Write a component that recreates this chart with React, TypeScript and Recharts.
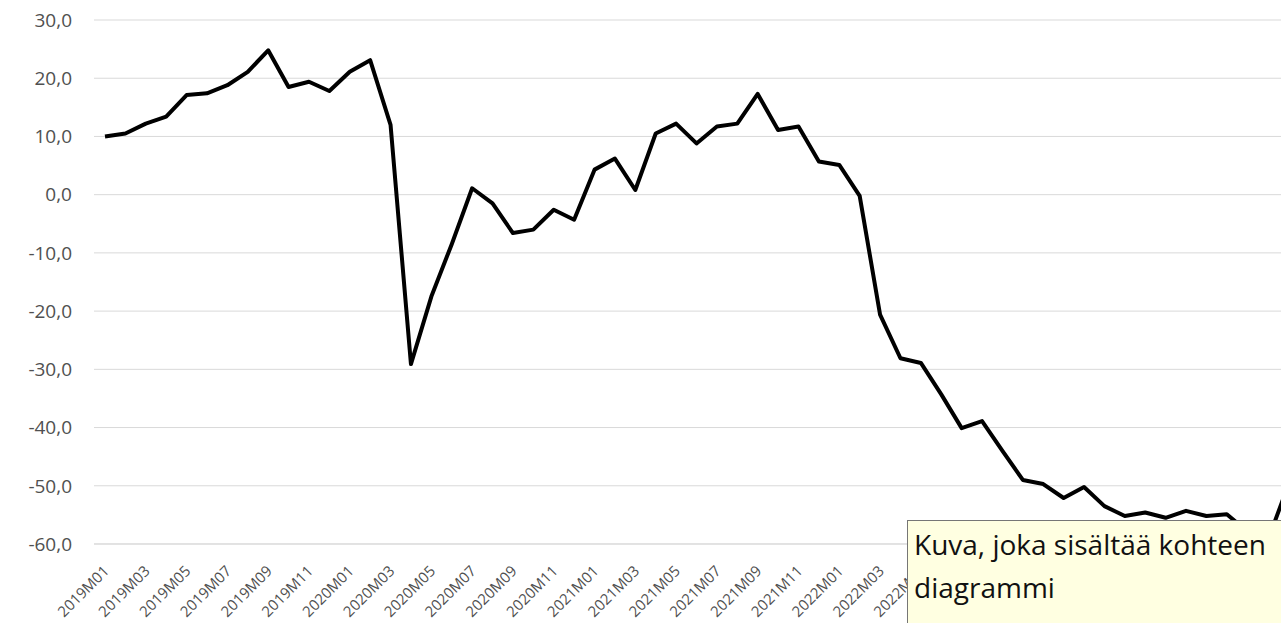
import { LineChart, Line, XAxis, YAxis, CartesianGrid } from 'recharts'

// monthly series 2019M01 .. 2023M11
const months = [
  '2019M01', '2019M02', '2019M03', '2019M04', '2019M05', '2019M06', '2019M07', '2019M08', '2019M09', '2019M10', '2019M11', '2019M12',
  '2020M01', '2020M02', '2020M03', '2020M04', '2020M05', '2020M06', '2020M07', '2020M08', '2020M09', '2020M10', '2020M11', '2020M12',
  '2021M01', '2021M02', '2021M03', '2021M04', '2021M05', '2021M06', '2021M07', '2021M08', '2021M09', '2021M10', '2021M11', '2021M12',
  '2022M01', '2022M02', '2022M03', '2022M04', '2022M05', '2022M06', '2022M07', '2022M08', '2022M09', '2022M10', '2022M11', '2022M12',
  '2023M01', '2023M02', '2023M03', '2023M04', '2023M05', '2023M06', '2023M07', '2023M08', '2023M09', '2023M10', '2023M11',
]

const values = [
  10.0, 10.5, 12.2, 13.4, 17.1, 17.4, 18.8, 21.1, 24.8, 18.5, 19.4, 17.8,
  21.1, 23.1, 12.0, -29.1, -17.5, -8.5, 1.1, -1.5, -6.6, -6.0, -2.6, -4.3,
  4.3, 6.2, 0.8, 10.5, 12.2, 8.8, 11.7, 12.2, 17.3, 11.1, 11.7, 5.7,
  5.1, -0.2, -20.6, -28.1, -28.9, -34.3, -40.1, -38.9, -44.0, -49.0, -49.7, -52.1,
  -50.2, -53.5, -55.2, -54.6, -55.5, -54.3, -55.2, -54.9, -57.8, -59.5, -50.0,
]

const yTicks = [-60, -50, -40, -30, -20, -10, 0, 10, 20, 30]

const tooltipLines = ['Kuva, joka sisältää kohteen', 'diagrammi']

const data = months.map((m, i) => ({ month: m, value: values[i] }))

const fmt = (v: number) => v.toFixed(1).replace('.', ',')

const MonthTick = (props: any) => {
  const { x, y, payload } = props
  const ax = x + 5
  const ay = y + 20
  return (
    <text
      x={ax}
      y={ay}
      transform={`rotate(-45, ${ax}, ${ay})`}
      textAnchor="end"
      fill="#505050"
      fontSize={15}
      fontFamily="'Open Sans', sans-serif"
    >
      {payload.value}
    </text>
  )
}

export default function App() {
  return (
    <div style={{ position: 'fixed', left: 0, top: 0, width: 1281, height: 623, overflow: 'hidden', background: '#fff' }}>
      <LineChart width={1299} height={623} data={data} margin={{ top: 20, right: 0, bottom: 0, left: 0 }}>
        <CartesianGrid vertical={false} stroke="#d9d9d9" />
        <XAxis
          dataKey="month"
          scale="point"
          padding={{ left: 11, right: 11 }}
          interval={1}
          height={79}
          tick={<MonthTick />}
          tickLine={false}
          axisLine={{ stroke: '#d9d9d9' }}
        />
        <YAxis
          width={94}
          domain={[-60, 30]}
          ticks={yTicks}
          tickFormatter={fmt}
          tickSize={0}
          tickMargin={22}
          axisLine={false}
          tickLine={false}
          tick={{ fill: '#505050', fontSize: 19, fontFamily: "'Open Sans', sans-serif" }}
        />
        <Line
          type="linear"
          dataKey="value"
          stroke="#000"
          strokeWidth={4}
          strokeLinejoin="round"
          dot={false}
          isAnimationActive={false}
        />
      </LineChart>

      {/* alt-text popup sitting over the bottom right corner */}
      <div
        style={{
          position: 'absolute', left: 907, top: 520, width: 420, height: 130,
          background: '#ffffe1', border: '1px solid #767676', boxSizing: 'border-box',
          padding: '2px 0 0 6px', fontFamily: "'Open Sans', sans-serif", fontSize: 28,
          lineHeight: '43px', color: '#111', whiteSpace: 'nowrap',
        }}
      >
        {tooltipLines.map(t => <div key={t}>{t}</div>)}
      </div>
    </div>
  )
}
